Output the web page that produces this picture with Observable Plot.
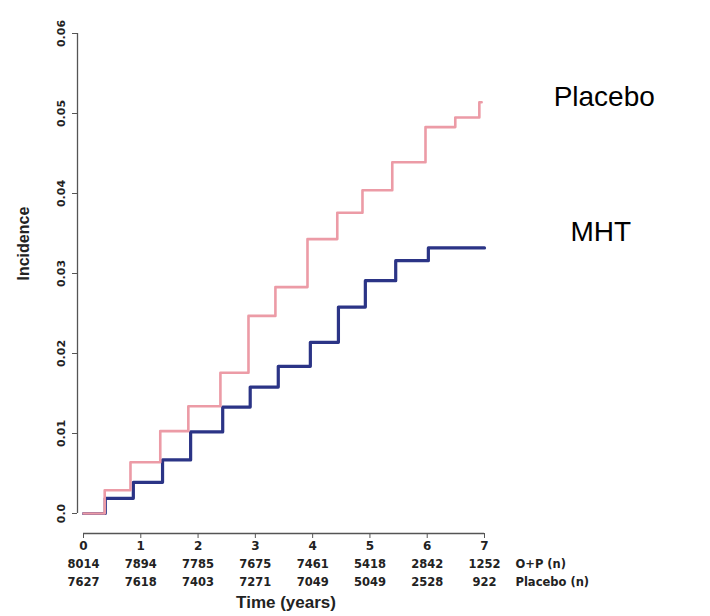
<!DOCTYPE html>
<html>
<head>
<meta charset="utf-8">
<script src="https://cdn.jsdelivr.net/npm/d3@7"></script>
<script src="https://cdn.jsdelivr.net/npm/@observablehq/plot@0.6"></script>
<style>
  html, body { margin: 0; padding: 0; background: #fff; }
  #chart svg { display: block; }
</style>
</head>
<body>
<div id="chart"></div>
<script>
// ---- Data ----
const placeboTimes  = [0, 0.37, 0.82, 1.34, 1.83, 2.39, 2.88, 3.35, 3.91, 4.43, 4.87, 5.39, 5.97, 6.49, 6.91, 6.95];
const placeboValues = [0, 0.0029, 0.0064, 0.0103, 0.0134, 0.0176, 0.0247, 0.0283, 0.0343, 0.0376, 0.0404, 0.0439, 0.0483, 0.0495, 0.0514, 0.0514];

const mhtTimes  = [0, 0.38, 0.87, 1.38, 1.87, 2.43, 2.91, 3.40, 3.96, 4.45, 4.92, 5.45, 6.02, 7.0];
const mhtValues = [0, 0.0019, 0.0039, 0.0067, 0.0102, 0.0133, 0.0158, 0.0184, 0.0214, 0.0258, 0.0291, 0.0316, 0.0332, 0.0332];

const xTicks = [0, 1, 2, 3, 4, 5, 6, 7];
const yTicks = [0, 0.01, 0.02, 0.03, 0.04, 0.05, 0.06];
const yTickLabels = ["0.0", "0.01", "0.02", "0.03", "0.04", "0.05", "0.06"];
const atRiskOP      = ["8014", "7894", "7785", "7675", "7461", "5418", "2842", "1252"];
const atRiskPlacebo = ["7627", "7618", "7403", "7271", "7049", "5049", "2528", "922"];
const rowLabels = ["O+P (n)", "Placebo (n)"];
const seriesNames = ["Placebo", "MHT"];

const placebo = placeboTimes.map((t, i) => ({t, v: placeboValues[i]}));
const mht = mhtTimes.map((t, i) => ({t, v: mhtValues[i]}));

const PINK = "#ec9ba6";
const NAVY = "#2b3486";
const AXIS = "#555";
const TXT = "#222";
const font = "Liberation Sans, Arial, sans-serif";
const smallFont = "DejaVu Sans, sans-serif";

const chart = Plot.plot({
  width: 710,
  height: 616,
  marginLeft: 83,
  marginRight: 226,
  marginTop: 33,
  marginBottom: 103,
  style: {fontFamily: font, background: "#fff", color: TXT},
  x: {domain: [0, 7]},
  y: {domain: [0, 0.06]},
  marks: [
    // y axis
    Plot.ruleX([0], {y1: d3.min(yTicks), y2: d3.max(yTicks), dx: -6, stroke: AXIS, strokeWidth: 1.3}),
    Plot.axisY({ticks: yTicks, tickFormat: (d) => yTickLabels[yTicks.indexOf(d)], tickSize: 5, dx: -6,
      tickRotate: -90, tickPadding: 8, fontSize: 11, fontWeight: "bold", fontFamily: smallFont,
      stroke: AXIS, fill: TXT, label: null}),
    // x axis
    Plot.ruleY([0], {x1: d3.min(xTicks), x2: d3.max(xTicks), dy: 20, stroke: AXIS, strokeWidth: 1.3}),
    Plot.axisX({ticks: xTicks, tickFormat: d => String(d), tickSize: 5, dy: 20, tickPadding: 3,
      fontSize: 12, fontWeight: "bold", fontFamily: smallFont, stroke: AXIS, fill: TXT, label: null}),
    // at-risk table
    Plot.text(xTicks, {x: d => d, text: (d, i) => atRiskOP[i], frameAnchor: "bottom", dy: 54,
      fontSize: 11.5, fontWeight: "bold", fontFamily: smallFont, fill: TXT}),
    Plot.text(xTicks, {x: d => d, text: (d, i) => atRiskPlacebo[i], frameAnchor: "bottom", dy: 72,
      fontSize: 11.5, fontWeight: "bold", fontFamily: smallFont, fill: TXT}),
    Plot.text([rowLabels[0]], {x: () => d3.max(xTicks), text: d => d, frameAnchor: "bottom", dy: 54, dx: 31,
      textAnchor: "start", fontSize: 11.5, fontWeight: "bold", fontFamily: smallFont, fill: TXT}),
    Plot.text([rowLabels[1]], {x: () => d3.max(xTicks), text: d => d, frameAnchor: "bottom", dy: 72, dx: 31,
      textAnchor: "start", fontSize: 11.5, fontWeight: "bold", fontFamily: smallFont, fill: TXT}),
    // axis titles
    Plot.text(["Time (years)"], {text: d => d, frameAnchor: "bottom", dy: 94, dx: 2,
      fontSize: 17, fontWeight: "bold", fill: TXT}),
    Plot.text(["Incidence"], {text: d => d, frameAnchor: "left", rotate: -90, dx: -60, dy: 7,
      fontSize: 16, fontWeight: "bold", fill: TXT}),
    // curves
    Plot.line(mht, {x: "t", y: "v", curve: "step-after", stroke: NAVY, strokeWidth: 3.2}),
    Plot.line(placebo, {x: "t", y: "v", curve: "step-after", stroke: PINK, strokeWidth: 2.6}),
    // series labels
    Plot.text([placebo[placebo.length - 1]], {x: "t", y: "v", text: () => seriesNames[0], dx: 72, dy: -5,
      textAnchor: "start", fontSize: 28, fill: "#000"}),
    Plot.text([mht[mht.length - 1]], {x: "t", y: "v", text: () => seriesNames[1], dx: 86, dy: -16,
      textAnchor: "start", fontSize: 28, fill: "#000"})
  ]
});
document.getElementById("chart").appendChild(chart);
</script>
</body>
</html>
